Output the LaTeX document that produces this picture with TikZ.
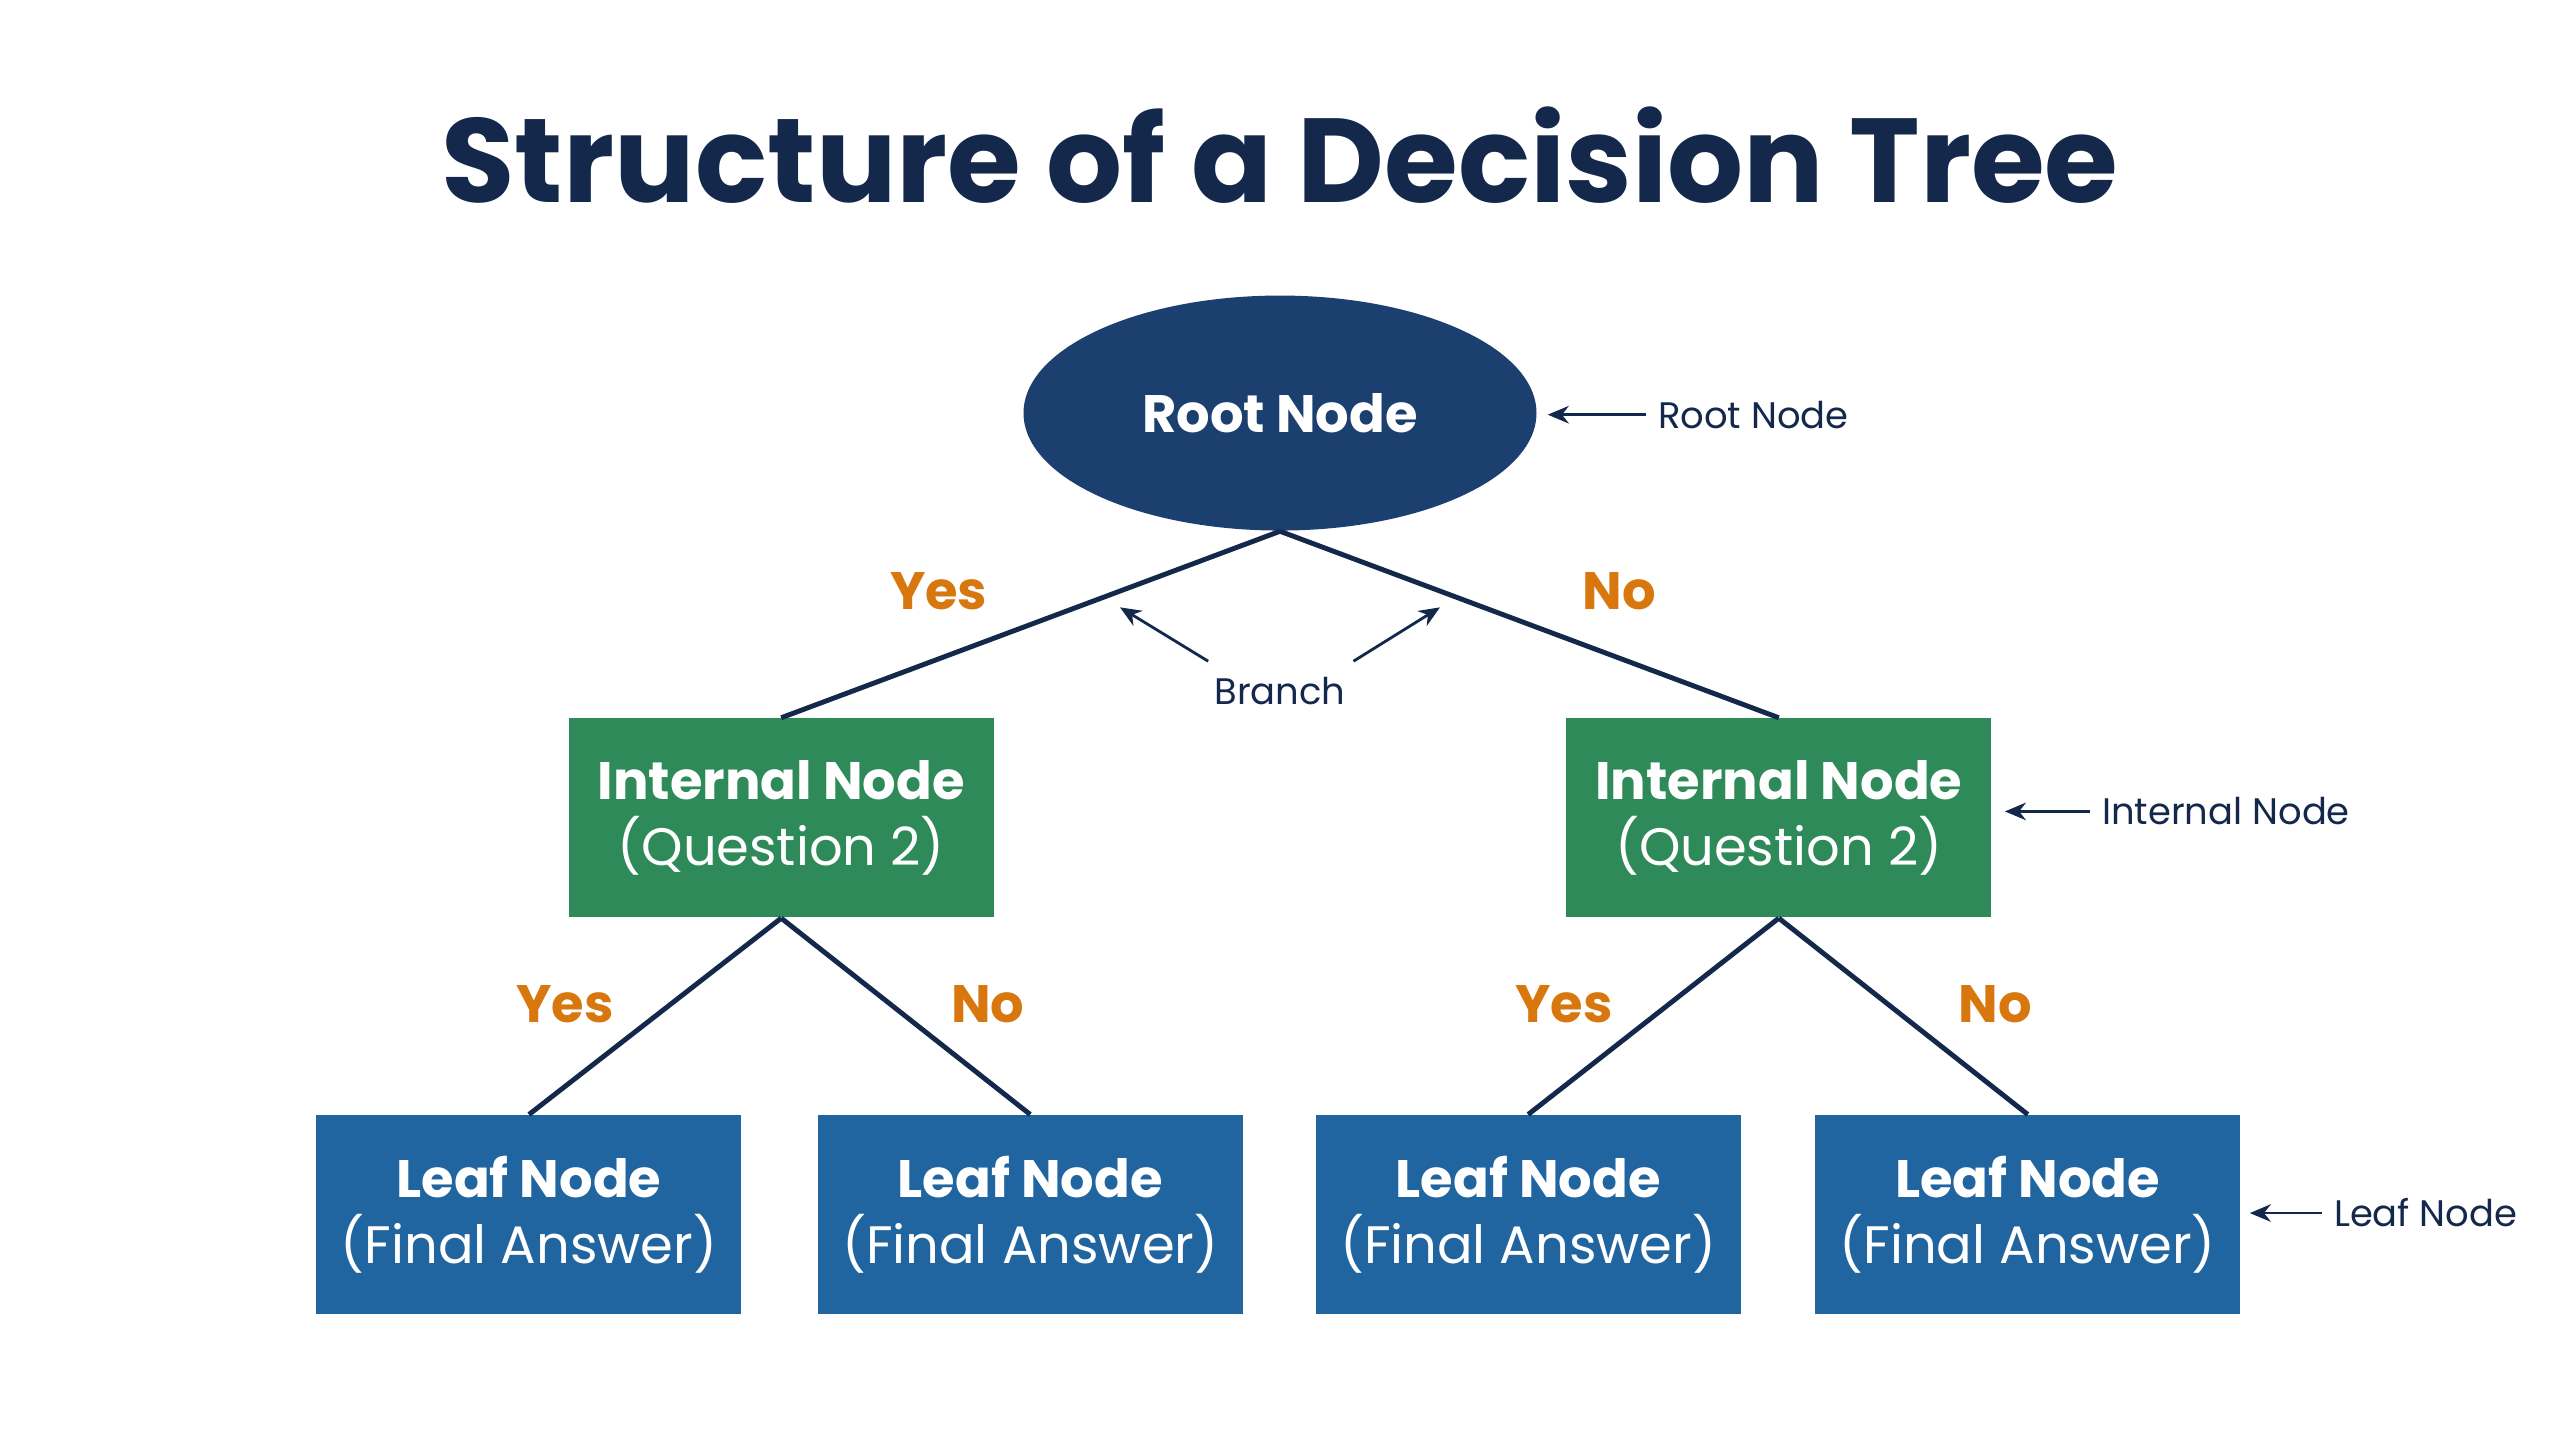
\documentclass[tikz,border=0pt]{standalone}
\usepackage{fontspec}
\setmainfont{Poppins}
\usetikzlibrary{arrows.meta,shapes.geometric}
\definecolor{navy}{HTML}{14284B}
\definecolor{rootc}{HTML}{1B3F6E}
\definecolor{intc}{HTML}{2E8A58}
\definecolor{leafc}{HTML}{2064A0}
\definecolor{orng}{HTML}{D9770F}
\begin{document}
\begin{tikzpicture}[x=0.01633cm,y=-0.01633cm,
  box/.style={draw=none,minimum width=4.25cm,minimum height=1.99cm,text=white,align=center,font=\fontsize{15}{19}\selectfont},
  branch/.style={draw=navy,line width=1.4pt},
  lab/.style={text=orng,font=\fontsize{15}{18}\selectfont\bfseries},
  ann/.style={text=navy,font=\fontsize{10.5}{13}\selectfont,anchor=west},
  arr/.style={draw=navy,line width=0.8pt,-{Stealth[length=6pt,width=5pt]}}]
\useasboundingbox (0,0) rectangle (1568,875);
\node[text=navy,font=\fontsize{34}{40}\selectfont\bfseries] (title) at (784,95) {Structure of a Decision Tree};
\node[ellipse,fill=rootc,minimum width=5.13cm,minimum height=2.35cm,text=white,font=\fontsize{15}{18}\selectfont\bfseries] (root) at (784,253) {Root Node};
\node[box,fill=intc] (i1) at (478.5,501) {\textbf{Internal Node}\\(Question 2)};
\node[box,fill=intc] (i2) at (1089.5,501) {\textbf{Internal Node}\\(Question 2)};
\node[box,fill=leafc] (l1) at (324,744) {\textbf{Leaf Node}\\(Final Answer)};
\node[box,fill=leafc] (l2) at (631,744) {\textbf{Leaf Node}\\(Final Answer)};
\node[box,fill=leafc] (l3) at (936,744) {\textbf{Leaf Node}\\(Final Answer)};
\node[box,fill=leafc] (l4) at (1242,744) {\textbf{Leaf Node}\\(Final Answer)};
\draw[branch] (root.south) -- (i1.north);
\draw[branch] (root.south) -- (i2.north);
\draw[branch] (i1.south) -- (l1.north);
\draw[branch] (i1.south) -- (l2.north);
\draw[branch] (i2.south) -- (l3.north);
\draw[branch] (i2.south) -- (l4.north);
\node[lab] (y1) at (575,362) {Yes};
\node[lab] (n1) at (992,362) {No};
\node[lab] (y2) at (346,615) {Yes};
\node[lab] (n2) at (605,615) {No};
\node[lab] (y3) at (958,615) {Yes};
\node[lab] (n3) at (1222,615) {No};
\node[text=navy,font=\fontsize{10.5}{13}\selectfont] (br) at (784,423) {Branch};
\coordinate (b1s) at (740,405); \coordinate (b1e) at (686,372);
\coordinate (b2s) at (829,405); \coordinate (b2e) at (882,372);
\draw[arr] (b1s) -- (b1e);
\draw[arr] (b2s) -- (b2e);
\node[ann] (ar) at (1008,254) {Root Node};
\node[ann] (ai) at (1280,497) {Internal Node};
\node[ann] (al) at (1422,743) {Leaf Node};
\coordinate (re) at (948,254); \coordinate (ie) at (1228,497); \coordinate (le) at (1378,743);
\draw[arr] (ar.west) -- (re);
\draw[arr] (ai.west) -- (ie);
\draw[arr] (al.west) -- (le);
\end{tikzpicture}
\end{document}
